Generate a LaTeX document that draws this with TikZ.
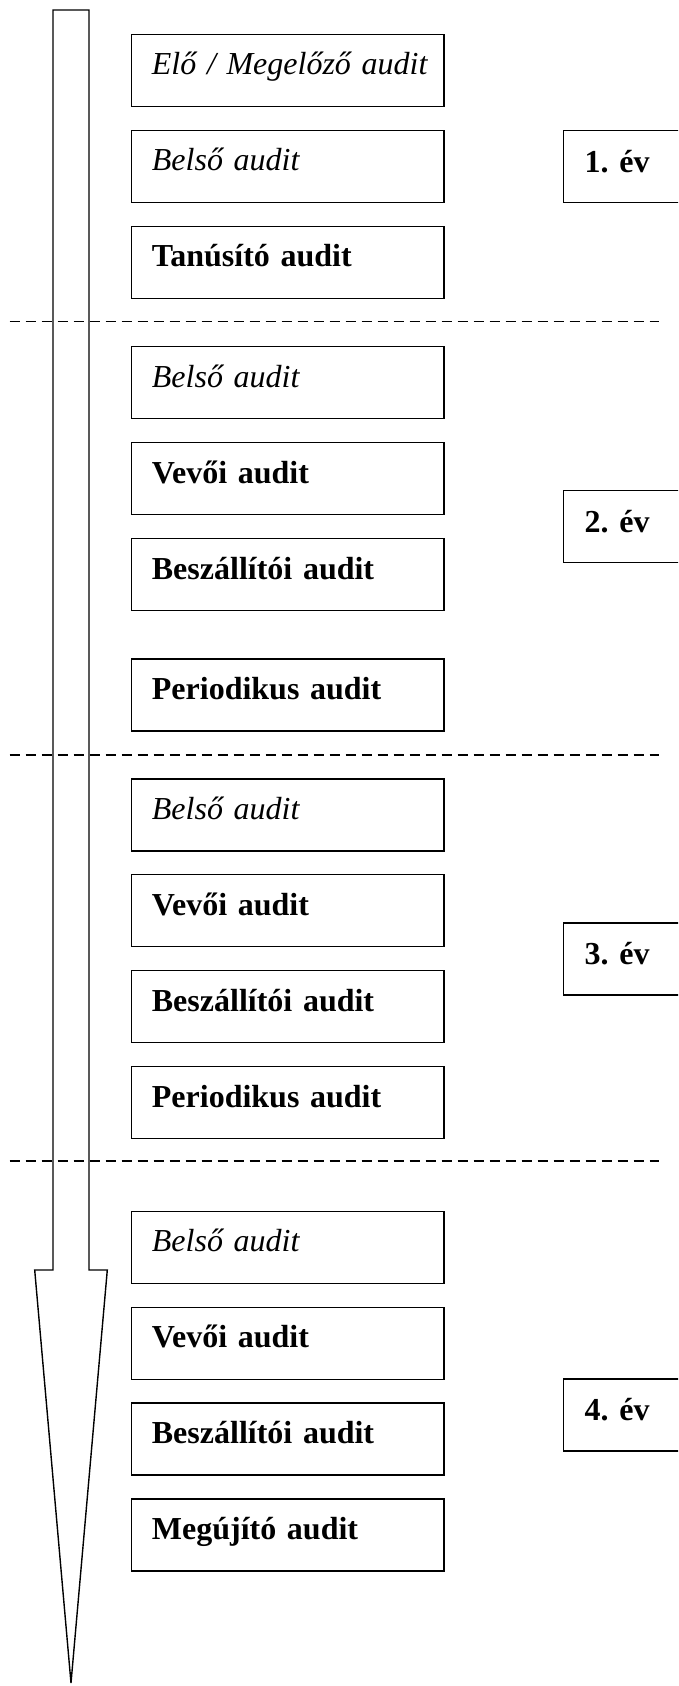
\documentclass[tikz,border=0pt]{standalone}
\usepackage{fontspec}
\setmainfont{Liberation Serif}
\begin{document}
\begin{tikzpicture}[x=1pt,y=-1pt,
  auditbox/.style={draw, line width=1.4pt, anchor=north west, inner ysep=0pt, inner xsep=20.5pt,
    text width=271.5pt, align=left, text height=40.5pt, text depth=31.5pt,
    font=\fontsize{32}{38}\selectfont\frenchspacing},
  yearbox/.style={draw, line width=1.4pt, anchor=north west, inner ysep=0pt, inner xsep=21.3pt,
    text width=100pt, align=left, text height=41.7pt, text depth=30.3pt,
    font=\fontsize{32}{38}\selectfont\bfseries\frenchspacing},
  sep/.style={line width=1.2pt, dash pattern=on 10pt off 6pt},
  bigarrow/.style={line width=1.4pt}]
\clip (0,0) rectangle (678,1686);
\fill[white] (0,0) rectangle (678,1686);
% separators
\coordinate (s1a) at (9.5,321.5); \coordinate (s1b) at (659,321.5);
\coordinate (s2a) at (9.5,755);   \coordinate (s2b) at (659,755);
\coordinate (s3a) at (9.5,1161);  \coordinate (s3b) at (659,1161);
\draw[sep] (s1a) -- (s1b);
\draw[sep] (s2a) -- (s2b);
\draw[sep] (s3a) -- (s3b);
% arrow
\draw[bigarrow, line join=miter] (53,10) -- (89,10) -- (89,1270) -- (107.3,1270) -- (71,1683)
  -- (34.7,1270) -- (53,1270) -- cycle;
% year 1
\node[auditbox] (a11) at (130.7,33.7)  {\mbox{\itshape Elő / Megelőző audit}};
\node[auditbox] (a12) at (130.7,129.7) {\itshape Belső audit};
\node[auditbox] (a13) at (130.7,225.7) {\bfseries Tanúsító audit};
\node[yearbox] (y1) at (562.7,130) {1. év};
% year 2
\node[auditbox] (a21) at (130.7,346)   {\itshape Belső audit};
\node[auditbox] (a22) at (130.7,442)   {\bfseries Vevői audit};
\node[auditbox] (a23) at (130.7,538)   {\bfseries Beszállítói audit};
\node[auditbox] (a24) at (130.7,658.3) {\bfseries Periodikus audit};
\node[yearbox] (y2) at (562.7,490) {2. év};
% year 3
\node[auditbox] (a31) at (130.7,778.3) {\itshape Belső audit};
\node[auditbox] (a32) at (130.7,874)   {\bfseries Vevői audit};
\node[auditbox] (a33) at (130.7,970)   {\bfseries Beszállítói audit};
\node[auditbox] (a34) at (130.7,1066)  {\bfseries Periodikus audit};
\node[yearbox] (y3) at (562.7,922.3) {3. év};
% year 4
\node[auditbox] (a41) at (130.7,1210.7) {\itshape Belső audit};
\node[auditbox] (a42) at (130.7,1306.7) {\bfseries Vevői audit};
\node[auditbox] (a43) at (130.7,1402.3) {\bfseries Beszállítói audit};
\node[auditbox] (a44) at (130.7,1498.3) {\bfseries Megújító audit};
\node[yearbox] (y4) at (562.7,1378.3) {4. év};
\end{tikzpicture}
\end{document}
